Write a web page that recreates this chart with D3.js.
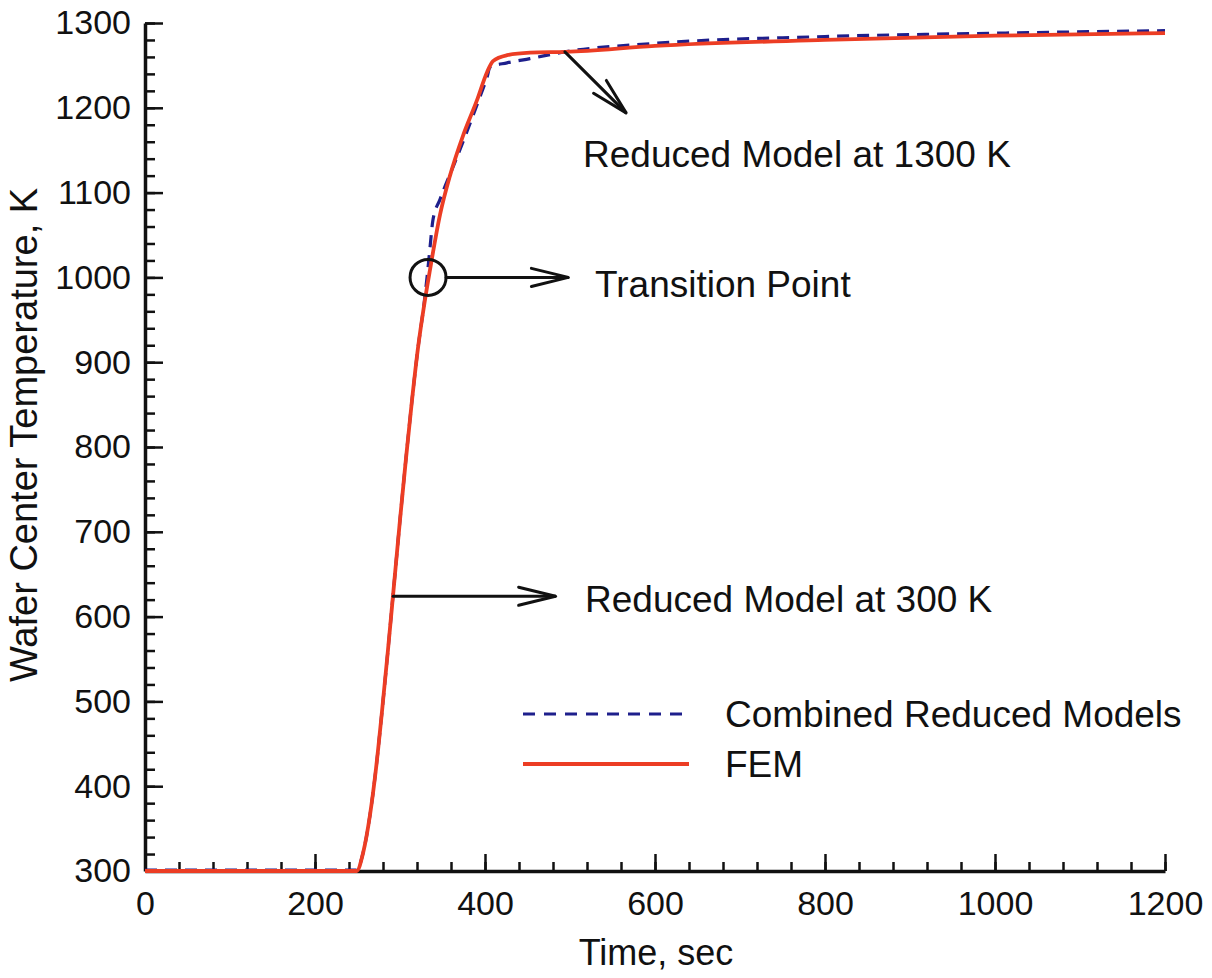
<!DOCTYPE html>
<html>
<head>
<meta charset="utf-8">
<script src="https://cdn.jsdelivr.net/npm/d3@7"></script>
<style>
  body { margin: 0; background: #fff; }
  text { font-family: "Liberation Sans", Arial, sans-serif; fill: #111; }
</style>
</head>
<body>
<script>
// FEM solution (time in sec, temperature in K)
var femTime = [0, 249, 256.5, 264.7, 271.8, 278.8, 285.9, 292.9, 300, 307.1, 314.1, 321.2, 328.2, 335.3, 347.1, 358.8, 374.1, 390.6, 402.4, 409.4, 425.9, 452.9, 495, 600, 800, 1000, 1200];
var femTemp = [300, 300, 321, 366, 421, 488, 561, 637, 714, 787, 855, 917, 966, 1009, 1074, 1120, 1167, 1209, 1242, 1255, 1262, 1265, 1266, 1273, 1280, 1285, 1288];

// combined reduced models
var rmTime = [0, 249, 256.5, 264.7, 271.8, 278.8, 285.9, 292.9, 300, 307.1, 314.1, 321.2, 328.2, 332, 335, 338.8, 347.1, 364.7, 378.8, 394.1, 402.4, 405.9, 425.9, 452.9, 494, 600, 800, 1000, 1200];
var rmTemp = [301, 301, 321, 366, 421, 488, 561, 637, 714, 787, 855, 917, 968, 1002, 1032, 1068, 1092, 1136, 1172, 1213, 1236, 1248, 1253, 1258, 1266, 1276, 1284, 1288, 1291];

var xMajor = [0, 200, 400, 600, 800, 1000, 1200];
var yMajor = [300, 400, 500, 600, 700, 800, 900, 1000, 1100, 1200, 1300];

var transition = {t: 333, T: 1000};

var W = 1212, H = 978;
var svg = d3.select("body").append("svg")
  .attr("width", W)
  .attr("height", H);

var x = d3.scaleLinear().domain([0, 1200]).range([145, 1165]);
var y = d3.scaleLinear().domain([300, 1300]).range([871, 23]);

// minor ticks first, then major ticks with labels
svg.append("g")
  .attr("transform", "translate(0," + y(300) + ")")
  .call(d3.axisBottom(x).tickValues(d3.range(0, 1201, 40)).tickSize(-9).tickSizeOuter(0).tickFormat(""))
  .call(function(g) { g.select(".domain").remove(); g.selectAll("line").attr("stroke", "#111").attr("stroke-width", 2.5); });

svg.append("g")
  .attr("transform", "translate(" + x(0) + ",0)")
  .call(d3.axisLeft(y).tickValues(d3.range(300, 1301, 20)).tickSize(-10).tickSizeOuter(0).tickFormat(""))
  .call(function(g) { g.select(".domain").remove(); g.selectAll("line").attr("stroke", "#111").attr("stroke-width", 2.5); });

var xAxis = svg.append("g")
  .attr("transform", "translate(0," + y(300) + ")")
  .call(d3.axisBottom(x).tickValues(xMajor).tickSize(-17).tickSizeOuter(0).tickPadding(20).tickFormat(d3.format("d")));

var yAxis = svg.append("g")
  .attr("transform", "translate(" + x(0) + ",0)")
  .call(d3.axisLeft(y).tickValues(yMajor).tickSize(-18).tickSizeOuter(0).tickPadding(14).tickFormat(d3.format("d")));

[xAxis, yAxis].forEach(function(g) {
  g.select(".domain").attr("stroke", "#111").attr("stroke-width", 3.5);
  g.selectAll(".tick line").attr("stroke", "#111").attr("stroke-width", 2.5);
  g.selectAll(".tick text").attr("font-size", 34).attr("fill", "#111")
    .style("font-family", "'Liberation Sans', Arial, sans-serif");
});

// axis titles
svg.append("text")
  .attr("x", (x(0) + x(1200)) / 2 + 1)
  .attr("y", 965)
  .attr("text-anchor", "middle")
  .attr("font-size", 36)
  .text("Time, sec");

svg.append("text")
  .attr("transform", "translate(37," + 435 + ") rotate(-90)")
  .attr("text-anchor", "middle")
  .attr("font-size", 38)
  .text("Wafer Center Temperature, K");

var line = d3.line()
  .x(function(d) { return x(d[0]); })
  .y(function(d) { return y(d[1]); })
  .curve(d3.curveMonotoneX);

svg.append("path")
  .datum(d3.zip(rmTime, rmTemp))
  .attr("d", line)
  .attr("fill", "none")
  .attr("stroke", "#1e1f8c")
  .attr("stroke-width", 3.2)
  .attr("stroke-dasharray", "12,8");

svg.append("path")
  .datum(d3.zip(femTime, femTemp))
  .attr("d", line)
  .attr("fill", "none")
  .attr("stroke", "#ec3d24")
  .attr("stroke-width", 3.8);

// annotations
function arrow(x1, y1, x2, y2) {
  var ang = Math.atan2(y2 - y1, x2 - x1), len = 38, spread = 0.24;
  var g = svg.append("g").attr("stroke", "#111").attr("stroke-width", 3).attr("fill", "none")
    .attr("stroke-linecap", "round");
  g.append("line").attr("x1", x1).attr("y1", y1).attr("x2", x2).attr("y2", y2);
  g.append("path").attr("d",
    "M" + (x2 - len * Math.cos(ang - spread)) + "," + (y2 - len * Math.sin(ang - spread)) +
    "L" + x2 + "," + y2 +
    "L" + (x2 - len * Math.cos(ang + spread)) + "," + (y2 - len * Math.sin(ang + spread)));
}

var r = 18;
svg.append("circle")
  .attr("cx", x(transition.t)).attr("cy", y(transition.T)).attr("r", r)
  .attr("fill", "none").attr("stroke", "#111").attr("stroke-width", 3);
arrow(x(transition.t) + r, y(transition.T), x(498), y(transition.T));
svg.append("text").attr("x", 595).attr("y", y(transition.T) + 20).attr("font-size", 37).text("Transition Point");

arrow(x(292), y(624), x(483), y(624));
svg.append("text").attr("x", 585).attr("y", y(624) + 16).attr("font-size", 37).text("Reduced Model at 300 K");

arrow(x(494), y(1266), x(566), y(1194));
svg.append("text").attr("x", 583).attr("y", 167).attr("font-size", 37).text("Reduced Model at 1300 K");

// legend
var leg = [
  {label: "Combined Reduced Models", color: "#1e1f8c", dash: "12,9", w: 3.2, ly: 714},
  {label: "FEM", color: "#ec3d24", dash: null, w: 3.8, ly: 764}
];
leg.forEach(function(d) {
  svg.append("line")
    .attr("x1", 523).attr("x2", 689).attr("y1", d.ly).attr("y2", d.ly)
    .attr("stroke", d.color).attr("stroke-width", d.w)
    .attr("stroke-dasharray", d.dash);
  svg.append("text").attr("x", 725).attr("y", d.ly + 13).attr("font-size", 37).text(d.label);
});
</script>
</body>
</html>
